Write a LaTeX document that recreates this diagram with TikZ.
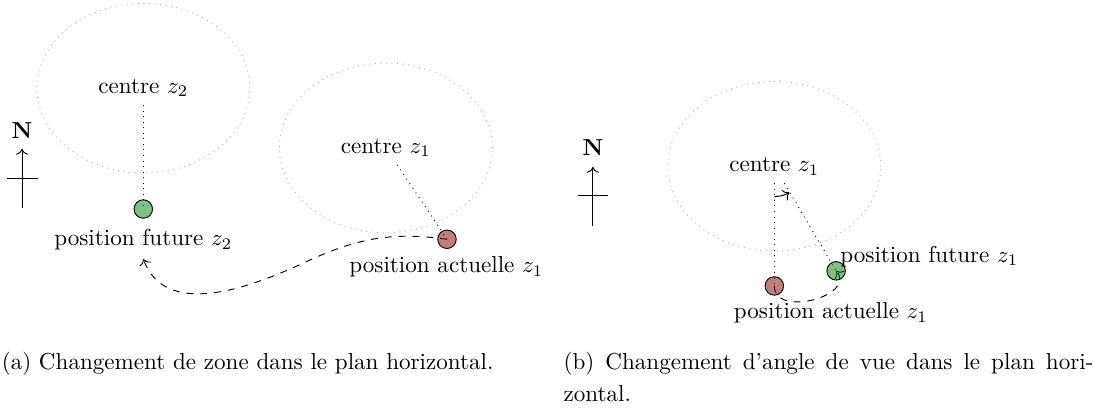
\documentclass[tikz,border=0pt]{standalone}
\usepackage{amsmath,amssymb}
\usepackage{tikz}
\usetikzlibrary{arrows.meta,positioning,calc}

\tikzset{
  zone/.style={draw=gray!60,dotted},
  spot/.style={circle,draw,minimum size=8pt,inner sep=0pt,fill opacity=0.5},
  move/.style={dashed,->},
  legende/.style={inner sep=0pt,font=\fontsize{10}{13.85}\selectfont}
}

\begin{document}
\begin{tikzpicture}
  \useasboundingbox (0,0) rectangle (16.78,-6.27);

  % (a) changement de zone
  \node (cz2) at (2.18,-1.34) {centre $z_2$};
  \node (cz1) at (5.87,-2.25) {centre $z_1$};
  \draw[zone] (cz2.center) ellipse [x radius=1.62,y radius=1.29];
  \draw[zone] (cz1.center) ellipse [x radius=1.62,y radius=1.29];
  \coordinate (fz2) at (2.18,-3.18);
  \coordinate (az1) at (6.80,-3.64);
  \coordinate (swing) at (4.64,-3.99);
  \coordinate (fz2end) at (2.18,-3.94);
  \draw[dotted] (cz2) -- (fz2);
  \draw[dotted] (cz1) -- (az1);
  \draw[move] (az1) to[out=172,in=25] (swing) to[out=205,in=-70] (fz2end);
  \node[spot,fill=green!50!black] (fz2dot) at (fz2) {};
  \node[spot,fill=red!50!black] (az1dot) at (az1) {};
  \node (fz2lbl) at (2.18,-3.65) {position future $z_2$};
  \node (az1lbl) at (6.79,-4.06) {position actuelle $z_1$};
  % boussole
  \node (Na) at (0.335,-1.98) {\textbf{N}};
  \coordinate (Sa) at (0.335,-3.16);
  \coordinate (Ta) at (0.335,-2.265);
  \draw[->] (Sa) -- (Ta);
  \draw (0.11,-2.72) -- (0.575,-2.72);

  % (b) changement d'angle de vue
  \node (czb) at (11.78,-2.53) {centre $z_1$};
  \draw[zone] (czb.center) ellipse [x radius=1.62,y radius=1.29];
  \coordinate (azb) at (11.78,-4.35);
  \coordinate (fzb) at (12.72,-4.12);
  \draw[dotted] (czb) -- (azb);
  \draw[dotted] (czb) -- (fzb);
  \draw[->] ([shift={(-90:0.46)}]czb.center) arc[start angle=-90,end angle=-60,radius=0.46];
  \draw[move] (azb) to[out=-90,in=-50,looseness=1.3] (fzb);
  \node[spot,fill=red!50!black] (azbdot) at (azb) {};
  \node[spot,fill=green!50!black] (fzbdot) at (fzb) {};
  \node[anchor=west] (fzblbl) at (12.66,-3.90) {position future $z_1$};
  \node (azblbl) at (12.64,-4.76) {position actuelle $z_1$};
  % boussole
  \node (Nb) at (9.02,-2.25) {\textbf{N}};
  \coordinate (Sb) at (9.02,-3.44);
  \coordinate (Tb) at (9.02,-2.54);
  \draw[->] (Sb) -- (Tb);
  \draw (8.795,-2.98) -- (9.25,-2.98);

  % legendes
  \node[legende,anchor=base west] (capa) at (0.02,-5.62)
    {(a) Changement de zone dans le plan horizontal.};
  \node[legende,anchor=north west,text width=229.4pt,align=justify] (capb) at (8.566,-5.358)
    {(b) Changement d'angle de vue dans le plan hori-\linebreak zontal.};
\end{tikzpicture}
\end{document}
